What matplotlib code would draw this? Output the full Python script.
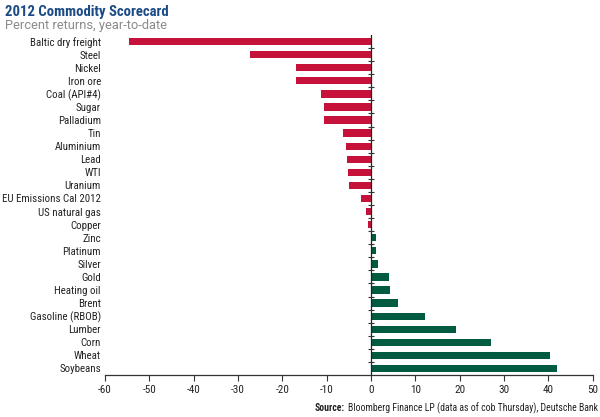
import matplotlib
matplotlib.use("Agg")
import matplotlib.pyplot as plt

categories = ["Baltic dry freight", "Steel", "Nickel", "Iron ore", "Coal (API#4)", "Sugar",
              "Palladium", "Tin", "Aluminium", "Lead", "WTI", "Uranium",
              "EU Emissions Cal 2012", "US natural gas", "Copper", "Zinc", "Platinum",
              "Silver", "Gold", "Heating oil", "Brent", "Gasoline (RBOB)", "Lumber",
              "Corn", "Wheat", "Soybeans"]
returns = [-54.5, -27.2, -16.9, -16.9, -11.3, -10.6, -10.6, -6.4, -5.7, -5.5, -5.2, -5.0,
           -2.2, -1.2, -0.8, 1.2, 1.2, 1.5, 4.1, 4.3, 6.1, 12.2, 19.2, 27.0, 40.4, 42.0]
xticks = [-60, -50, -40, -30, -20, -10, 0, 10, 20, 30, 40, 50]

plt.rcParams['font.family'] = ['Roboto Condensed', 'DejaVu Sans']

RED = "#C6123A"
GREEN = "#005B40"

fig = plt.figure(figsize=(6, 4.17), dpi=100)
ax = fig.add_axes([0.175, 0.1007, 0.813, 0.8153])

ypos = list(range(len(categories)))
colors = [RED if v < 0 else GREEN for v in returns]
ax.barh(ypos, returns, height=0.56, color=colors, edgecolor='none', zorder=2)

ax.set_xlim(xticks[0], xticks[-1])
ax.set_ylim(len(categories) - 0.5, -0.5)

ax.set_yticks(ypos)
ax.set_yticklabels(categories, fontsize=7.8, color="#222222")
ax.tick_params(axis='y', length=0, pad=3)

ax.set_xticks(xticks)
ax.set_xticklabels([str(t) for t in xticks], fontsize=8, color="#222222")
ax.tick_params(axis='x', direction='out', length=4, width=0.8, color="#333333", pad=3)

for s in ['top', 'right', 'left']:
    ax.spines[s].set_visible(False)
ax.spines['bottom'].set_color("#333333")
ax.spines['bottom'].set_linewidth(0.9)

# zero line with small ticks at category boundaries
ax.axvline(0, color="#222222", lw=0.9, zorder=3)
bounds = [i - 0.5 for i in range(1, len(categories))]
ax.plot([0] * len(bounds), bounds, linestyle='none', marker='_', markersize=5,
        color="#333333", mew=0.8, zorder=3, clip_on=False)

fig.text(0.009, 0.972, "2012 Commodity Scorecard", fontsize=10.6, fontweight='bold',
         color="#1B4B85", ha='left', va='center')
fig.text(0.009, 0.94, "Percent returns, year-to-date", fontsize=9.3,
         color="#8A8A8A", ha='left', va='center', family=['Roboto', 'DejaVu Sans'])

t2 = fig.text(0.996, 0.022, "Bloomberg Finance LP (data as of cob Thursday), Deutsche Bank",
              fontsize=7.0, color="#222222", ha='right', va='center')
fig.canvas.draw()
bb = t2.get_window_extent()
x_left = bb.x0 / fig.bbox.width
fig.text(x_left - 0.004, 0.022, "Source:", fontsize=7.0, fontweight='bold',
         color="#222222", ha='right', va='center')

fig.savefig("out.png", dpi=100)
